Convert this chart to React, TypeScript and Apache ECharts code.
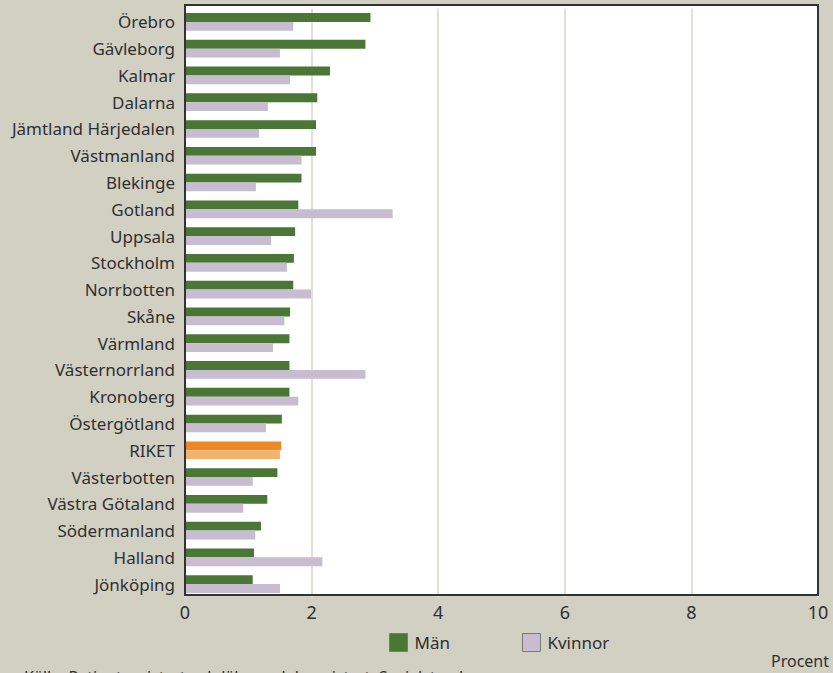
import React, { useEffect, useRef } from "react";
import * as echarts from "echarts";

const categories = [
  "Örebro", "Gävleborg", "Kalmar", "Dalarna", "Jämtland Härjedalen", "Västmanland",
  "Blekinge", "Gotland", "Uppsala", "Stockholm", "Norrbotten", "Skåne", "Värmland",
  "Västernorrland", "Kronoberg", "Östergötland", "RIKET", "Västerbotten",
  "Västra Götaland", "Södermanland", "Halland", "Jönköping",
];
const man = [2.93, 2.85, 2.29, 2.09, 2.07, 2.07, 1.84, 1.79, 1.74, 1.72, 1.71, 1.66, 1.65, 1.65, 1.65, 1.53, 1.52, 1.46, 1.30, 1.20, 1.09, 1.07];
const kvinnor = [1.71, 1.50, 1.66, 1.31, 1.17, 1.84, 1.12, 3.28, 1.36, 1.61, 1.99, 1.57, 1.39, 2.85, 1.79, 1.28, 1.50, 1.07, 0.92, 1.11, 2.17, 1.50];
const xTicks = [0, 2, 4, 6, 8, 10];
const seriesNames = ["Män", "Kvinnor"];
const unitLabel = "Procent";
const sourceText = "Källa: Patientregistret och läkemedelsregistret, Socialstyrelsen";

const GREEN = "#4a7636";
const LILAC = "#c8bcd0";
const ORANGE = "#ec8826";
const LIGHT_ORANGE = "#f3b36e";
const BG = "#d2cfc3";
const FONT = "Noto Sans";
const TXT = "#2f2f2f";

export default function App() {
  const ref = useRef<HTMLDivElement>(null);
  useEffect(() => {
    if (!ref.current) return;
    const chart = echarts.init(ref.current, null, { renderer: "svg" });
    const highlight = "RIKET";
    const manData = man.map((v, i) =>
      categories[i] === highlight ? { value: v, itemStyle: { color: ORANGE } } : v
    );
    const kvData = kvinnor.map((v, i) =>
      categories[i] === highlight ? { value: v, itemStyle: { color: LIGHT_ORANGE } } : v
    );
    chart.setOption({
      animation: false,
      backgroundColor: BG,
      textStyle: { fontFamily: FONT },
      grid: { left: 185, top: 8.5, width: 633, height: 589, containLabel: false },
      graphic: [
        {
          type: "rect",
          z: -10,
          shape: { x: 185, y: 5, width: 633, height: 590 },
          style: { fill: "#ffffff" },
        },
        {
          type: "rect",
          z: 100,
          shape: { x: 185, y: 5, width: 633, height: 590 },
          style: { fill: "none", stroke: "#333333", lineWidth: 2 },
        },
        {
          type: "text",
          right: 4,
          top: 653,
          style: { text: unitLabel, fontSize: 16, fill: TXT, fontFamily: FONT },
        },
        {
          type: "text",
          left: 24,
          top: 669,
          style: { text: sourceText, fontSize: 16, fill: TXT, fontFamily: FONT },
        },
      ],
      legend: {
        data: seriesNames,
        left: 389,
        top: 633,
        padding: 0,
        itemWidth: 18,
        itemHeight: 18,
        itemGap: 72,
        icon: "rect",
        textStyle: { fontSize: 17, color: TXT, fontFamily: FONT, padding: [0, 0, 0, 2] },
        itemStyle: { borderColor: "#7a7a7a", borderWidth: 1 },
      },
      xAxis: {
        type: "value",
        min: xTicks[0],
        max: xTicks[xTicks.length - 1],
        interval: 2,
        axisLine: { show: false },
        axisTick: { show: false },
        axisLabel: { fontSize: 18, color: TXT, margin: 5, fontFamily: FONT },
        splitLine: { show: true, lineStyle: { color: "#e2e0d8", width: 2 } },
      },
      yAxis: {
        type: "category",
        data: categories,
        inverse: true,
        axisLine: { show: false },
        axisTick: { show: false },
        axisLabel: { fontSize: 17, color: TXT, margin: 10, fontFamily: FONT },
        splitLine: { show: false },
      },
      series: [
        {
          name: seriesNames[0],
          type: "bar",
          data: manData,
          itemStyle: { color: GREEN },
          barGap: "0%",
          barCategoryGap: "34%",
        },
        {
          name: seriesNames[1],
          type: "bar",
          data: kvData,
          itemStyle: { color: LILAC },
          barGap: "0%",
          barCategoryGap: "34%",
        },
      ],
    });
    return () => chart.dispose();
  }, []);
  return <div ref={ref} style={{ width: 833, height: 673, position: "absolute", left: 0, top: 0 }} />;
}
